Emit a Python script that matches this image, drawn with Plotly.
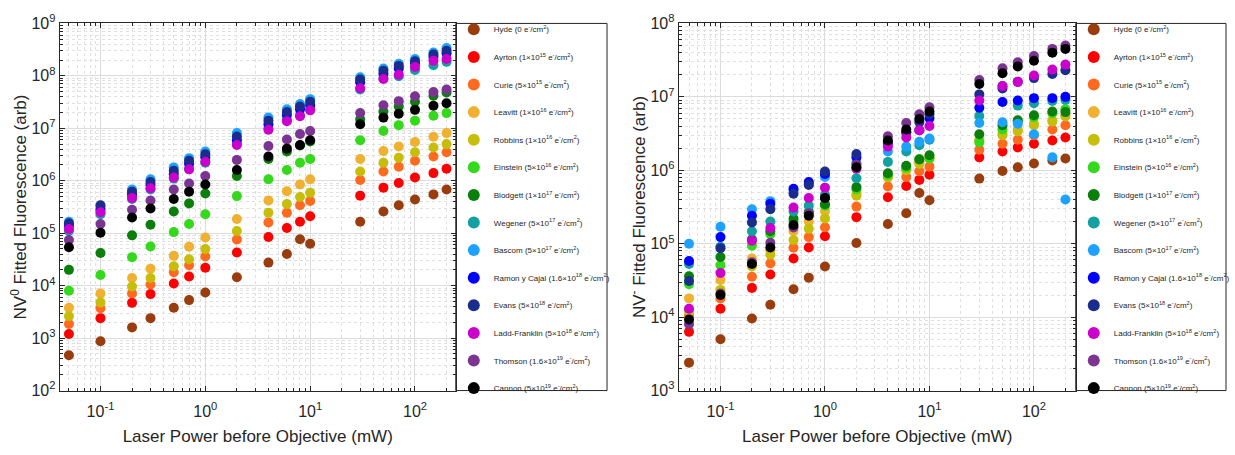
import numpy as np
import plotly.graph_objects as go

# ---------------- data ----------------
power_mw = [0.05, 0.1, 0.2, 0.3, 0.5, 0.7, 1, 2, 4, 6, 8, 10, 30, 50, 70, 100, 150, 200]

sample_names = ["Hyde", "Ayrton", "Curie", "Leavitt", "Robbins", "Einstein", "Blodgett",
                "Wegener", "Bascom", "Ramon y Cajal", "Evans", "Ladd-Franklin", "Thomson", "Cannon"]
sample_doses = ["0", "1\u00d710<sup>15</sup>", "5\u00d710<sup>15</sup>", "1\u00d710<sup>16</sup>",
                "1\u00d710<sup>16</sup>", "5\u00d710<sup>16</sup>", "1\u00d710<sup>17</sup>",
                "5\u00d710<sup>17</sup>", "5\u00d710<sup>17</sup>", "1.6\u00d710<sup>18</sup>",
                "5\u00d710<sup>18</sup>", "5\u00d710<sup>18</sup>", "1.6\u00d710<sup>19</sup>",
                "5\u00d710<sup>19</sup>"]
sample_colors = ["#993D0F", "#FF0000", "#FF6A1F", "#EFB12F", "#C6BE0A", "#33D91A", "#0B7F0B",
                 "#12A0A0", "#1EA2FF", "#0000FF", "#1B2D8C", "#CC00CC", "#7B3492", "#000000"]

# NV0 fitted fluorescence (arb)
nv0_hyde = [470, 870, 1600, 2400, 3800, 5300, 7400, 1.45e4, 2.75e4, 4.0e4, 7.7e4, 6.3e4, 1.66e5, 2.6e5, 3.4e5, 4.4e5, 5.5e5, 6.8e5]
nv0_ayrton = [1.2e3, 2.4e3, 4.7e3, 6.9e3, 1.1e4, 1.5e4, 2.2e4, 4.3e4, 8.5e4, 1.26e5, 1.66e5, 2.1e5, 5.2e5, 7.4e5, 9.1e5, 1.15e6, 1.4e6, 1.7e6]
nv0_curie = [1.86e3, 3.7e3, 7.1e3, 1.05e4, 1.8e4, 2.45e4, 3.6e4, 7.6e4, 1.6e5, 2.45e5, 3.4e5, 4.1e5, 1.03e6, 1.5e6, 1.85e6, 2.4e6, 2.9e6, 3.5e6]
nv0_leavitt = [3.8e3, 7.1e3, 1.4e4, 2.1e4, 3.7e4, 5.5e4, 8.3e4, 1.87e5, 4.2e5, 6.3e5, 8.5e5, 1.07e6, 2.6e6, 3.7e6, 4.5e6, 5.5e6, 6.9e6, 8.1e6]
nv0_robbins = [2.6e3, 4.8e3, 9.6e3, 1.4e4, 2.35e4, 3.2e4, 5.0e4, 1.1e5, 2.45e5, 3.6e5, 4.9e5, 5.9e5, 1.5e6, 2.2e6, 2.75e6, 3.5e6, 4.3e6, 5.0e6]
nv0_einstein = [8.0e3, 1.6e4, 3.5e4, 5.6e4, 1.05e5, 1.5e5, 2.3e5, 5.1e5, 1.07e6, 1.6e6, 2.2e6, 2.6e6, 5.9e6, 8.9e6, 1.15e7, 1.4e7, 1.74e7, 1.95e7]
nv0_blodgett = [2.0e4, 4.2e4, 9.1e4, 1.45e5, 2.6e5, 3.7e5, 5.7e5, 1.23e6, 2.6e6, 3.6e6, 4.7e6, 5.6e6, 1.48e7, 2.1e7, 2.6e7, 3.2e7, 4.2e7, 4.8e7]
nv0_wegener = [1.1e5, 2.3e5, 4.5e5, 6.8e5, 1.1e6, 1.7e6, 2.2e6, 5.0e6, 9.8e6, 1.45e7, 1.8e7, 2.3e7, 5.5e7, 9.0e7, 9.8e7, 1.3e8, 1.6e8, 1.85e8]
nv0_bascom = [1.65e5, 3.1e5, 6.8e5, 1.07e6, 1.8e6, 2.7e6, 3.6e6, 8.1e6, 1.6e7, 2.3e7, 2.9e7, 3.6e7, 9.4e7, 1.38e8, 1.7e8, 2.1e8, 2.8e8, 3.4e8]
nv0_ramon = [1.4e5, 2.8e5, 5.5e5, 8.3e5, 1.35e6, 2.1e6, 2.8e6, 5.9e6, 1.2e7, 1.8e7, 2.3e7, 2.75e7, 7.6e7, 1.1e8, 1.38e8, 1.74e8, 2.3e8, 2.7e8]
nv0_evans = [1.55e5, 3.4e5, 6.2e5, 9.5e5, 1.55e6, 2.4e6, 3.2e6, 7.0e6, 1.4e7, 2.05e7, 2.6e7, 3.2e7, 8.5e7, 1.25e8, 1.55e8, 1.9e8, 2.55e8, 3.0e8]
nv0_ladd = [1.2e5, 2.5e5, 4.7e5, 7.2e5, 1.15e6, 1.65e6, 2.3e6, 4.8e6, 9.4e6, 1.37e7, 1.7e7, 2.2e7, 5.8e7, 8.7e7, 1.05e8, 1.48e8, 1.95e8, 2.1e8]
nv0_thomson = [7.4e4, 1.5e5, 2.8e5, 4.2e5, 6.8e5, 8.9e5, 1.23e6, 2.5e6, 4.6e6, 6.1e6, 7.8e6, 8.9e6, 1.95e7, 2.75e7, 3.3e7, 4.1e7, 4.9e7, 5.5e7]
nv0_cannon = [5.4e4, 1.02e5, 2.0e5, 2.95e5, 4.5e5, 6.2e5, 8.5e5, 1.6e6, 2.9e6, 4.1e6, 4.8e6, 5.9e6, 1.2e7, 1.6e7, 1.9e7, 2.25e7, 2.7e7, 3.0e7]

# NV- fitted fluorescence (arb)
nvm_hyde = [2.4e3, 5.0e3, 9.6e3, 1.47e4, 2.4e4, 3.45e4, 4.9e4, 1.02e5, 1.85e5, 2.6e5, 4.9e5, 3.9e5, 7.7e5, 9.8e5, 1.1e6, 1.24e6, 1.36e6, 1.45e6]
nvm_ayrton = [6.3e3, 1.3e4, 2.5e4, 3.8e4, 6.3e4, 8.9e4, 1.26e5, 2.3e5, 4.3e5, 6.1e5, 7.4e5, 8.7e5, 1.5e6, 1.8e6, 2.05e6, 2.3e6, 2.55e6, 2.8e6]
nvm_curie = [1.05e4, 1.8e4, 3.55e4, 5.4e4, 8.8e4, 1.23e5, 1.67e5, 3.2e5, 6.0e5, 8.1e5, 9.7e5, 1.12e6, 1.9e6, 2.3e6, 2.6e6, 3.0e6, 3.6e6, 4.1e6]
nvm_leavitt = [1.8e4, 3.2e4, 6.3e4, 8.0e4, 1.48e5, 2.0e5, 2.77e5, 4.7e5, 8.3e5, 1.05e6, 1.3e6, 1.5e6, 2.6e6, 3.2e6, 3.6e6, 4.3e6, 4.8e6, 5.6e6]
nvm_robbins = [1.2e4, 2.35e4, 4.9e4, 7.1e4, 1.12e5, 1.6e5, 2.2e5, 4.5e5, 8.0e5, 1.0e6, 1.22e6, 1.45e6, 2.5e6, 3.0e6, 3.4e6, 4.1e6, 4.6e6, 5.4e6]
nvm_einstein = [2.8e4, 5.1e4, 9.4e4, 1.35e5, 2.0e5, 2.6e5, 3.3e5, 5.5e5, 8.6e5, 1.08e6, 1.42e6, 1.45e6, 2.4e6, 3.6e6, 4.6e6, 5.3e6, 6.0e6, 6.8e6]
nvm_blodgett = [3.6e4, 6.6e4, 1.15e5, 1.48e5, 2.2e5, 2.7e5, 3.45e5, 5.9e5, 9.1e5, 1.15e6, 1.4e6, 1.6e6, 3.1e6, 4.1e6, 4.8e6, 5.6e6, 6.3e6, 6.2e6]
nvm_wegener = [5.3e4, 9.1e4, 1.48e5, 2.0e5, 2.75e5, 3.3e5, 4.6e5, 7.8e5, 1.3e6, 1.8e6, 2.2e6, 2.6e6, 5.5e6, 1.4e7, 7.6e6, 8.2e6, 8.8e6, 9.1e6]
nvm_bascom = [1.0e5, 1.7e5, 2.95e5, 3.8e5, 5.3e5, 6.5e5, 8.1e5, 1.25e6, 1.8e6, 2.1e6, 2.45e6, 2.7e6, 4.4e6, 4.5e6, 4.3e6, 3.1e6, 1.5e6, 4.0e5]
nvm_ramon = [5.8e4, 1.23e5, 2.4e5, 3.5e5, 5.6e5, 6.9e5, 8.9e5, 1.5e6, 2.35e6, 3.3e6, 3.5e6, 5.1e6, 7.1e6, 8.5e6, 8.9e6, 9.6e6, 9.6e6, 1.0e7]
nvm_evans = [3.1e4, 8.7e4, 1.95e5, 2.95e5, 4.8e5, 6.3e5, 9.6e5, 1.66e6, 2.35e6, 3.3e6, 4.5e6, 5.8e6, 1.08e7, 1.3e7, 1.6e7, 1.8e7, 2.05e7, 2.3e7]
nvm_ladd = [1.3e4, 4.0e4, 1.1e5, 1.63e5, 3.1e5, 4.2e5, 5.8e5, 1.05e6, 2.1e6, 2.8e6, 3.5e6, 4.0e6, 8.9e6, 1.4e7, 1.6e7, 1.95e7, 2.35e7, 2.75e7]
nvm_thomson = [8.0e3, 2.1e4, 5.6e4, 1.03e5, 1.66e5, 2.6e5, 4.2e5, 1.2e6, 2.9e6, 4.4e6, 5.8e6, 7.2e6, 1.7e7, 2.45e7, 2.95e7, 3.6e7, 4.5e7, 5.0e7]
nvm_cannon = [9.3e3, 2.0e4, 5.3e4, 8.9e4, 1.8e5, 2.4e5, 4.2e5, 1.1e6, 2.55e6, 3.6e6, 5.0e6, 6.3e6, 1.5e7, 2.1e7, 2.6e7, 3.1e7, 4.0e7, 4.5e7]

x_tickvals = [0.1, 1, 10, 100]
x_ticktext = ["10<sup>-1</sup>", "10<sup>0</sup>", "10<sup>1</sup>", "10<sup>2</sup>"]
y0_tickvals = [1e2, 1e3, 1e4, 1e5, 1e6, 1e7, 1e8, 1e9]
y0_ticktext = ["10<sup>2</sup>", "10<sup>3</sup>", "10<sup>4</sup>", "10<sup>5</sup>",
               "10<sup>6</sup>", "10<sup>7</sup>", "10<sup>8</sup>", "10<sup>9</sup>"]
ym_tickvals = [1e3, 1e4, 1e5, 1e6, 1e7, 1e8]
ym_ticktext = ["10<sup>3</sup>", "10<sup>4</sup>", "10<sup>5</sup>", "10<sup>6</sup>",
               "10<sup>7</sup>", "10<sup>8</sup>"]

nv0_series = [nv0_hyde, nv0_ayrton, nv0_curie, nv0_leavitt, nv0_robbins, nv0_einstein, nv0_blodgett,
              nv0_wegener, nv0_bascom, nv0_ramon, nv0_evans, nv0_ladd, nv0_thomson, nv0_cannon]
nvm_series = [nvm_hyde, nvm_ayrton, nvm_curie, nvm_leavitt, nvm_robbins, nvm_einstein, nvm_blodgett,
              nvm_wegener, nvm_bascom, nvm_ramon, nvm_evans, nvm_ladd, nvm_thomson, nvm_cannon]

# ---------------- figure ----------------
W, H = 1235, 455
FONT = "Liberation Sans, Arial, Helvetica, sans-serif"
TXT = "#262626"

def px_x(p):
    return p / W

def px_y(p):
    return 1 - p / H

fig = go.Figure()

for i, name in enumerate(sample_names):
    label = f"{name} ({sample_doses[i]} e<sup>-</sup>/cm<sup>2</sup>)"
    fig.add_trace(go.Scatter(
        x=power_mw, y=nv0_series[i], mode="markers", name=label,
        marker=dict(size=10, color=sample_colors[i], line=dict(width=0)),
        xaxis="x", yaxis="y", legend="legend", legendgroup=f"a{i}",
    ))
for i, name in enumerate(sample_names):
    label = f"{name} ({sample_doses[i]} e<sup>-</sup>/cm<sup>2</sup>)"
    fig.add_trace(go.Scatter(
        x=power_mw, y=nvm_series[i], mode="markers", name=label,
        marker=dict(size=10, color=sample_colors[i], line=dict(width=0)),
        xaxis="x2", yaxis="y2", legend="legend2", legendgroup=f"b{i}",
    ))

def minor_vals(lo, hi):
    return [d * 10.0 ** k for k in range(lo, hi) for d in range(2, 10)]

MINOR_GRID = "#E0E0E0"
axis_common = dict(
    type="log", showline=True, linecolor=TXT, linewidth=1, mirror="ticks",
    ticks="inside", ticklen=5, tickcolor=TXT, tickwidth=1,
    showgrid=True, gridcolor="#DCDCDC", gridwidth=1, zeroline=False,
    tickfont=dict(family=FONT, size=16, color=TXT),
    title_font=dict(family=FONT, size=17, color=TXT),
)

xmin_l, xmax_l = -1.389, 2.389
xmin_r, xmax_r = -1.40, 2.40

fig.update_layout(
    width=W, height=H, margin=dict(l=0, r=0, t=0, b=0),
    paper_bgcolor="white", plot_bgcolor="white",
    font=dict(family=FONT, color=TXT),
    xaxis=dict(axis_common, domain=[px_x(60), px_x(458)], range=[xmin_l, xmax_l],
               tickvals=x_tickvals, ticktext=x_ticktext, anchor="y",
               minor=dict(tickvals=minor_vals(-2, 3), ticks="inside", ticklen=3, tickcolor=TXT,
                          showgrid=True, gridcolor=MINOR_GRID, griddash="dot"),
               ticklabelstandoff=6,
               title=dict(text="Laser Power before Objective (mW)", standoff=11)),
    yaxis=dict(axis_common, domain=[px_y(397), px_y(13)], range=[2, 9],
               tickvals=y0_tickvals, ticktext=y0_ticktext, anchor="x",
               minor=dict(tickvals=minor_vals(2, 9), ticks="inside", ticklen=3, tickcolor=TXT,
                          showgrid=True, gridcolor=MINOR_GRID, griddash="dot"),
               title=dict(text="NV<sup>0</sup> Fitted Fluorescence (arb)", standoff=0)),
    xaxis2=dict(axis_common, domain=[px_x(682), px_x(1081)], range=[xmin_r, xmax_r],
                tickvals=x_tickvals, ticktext=x_ticktext, anchor="y2",
                minor=dict(tickvals=minor_vals(-2, 3), ticks="inside", ticklen=3, tickcolor=TXT,
                           showgrid=True, gridcolor=MINOR_GRID, griddash="dot"),
                ticklabelstandoff=6,
                title=dict(text="Laser Power before Objective (mW)", standoff=11)),
    yaxis2=dict(axis_common, domain=[px_y(397), px_y(13)], range=[3, 8],
                tickvals=ym_tickvals, ticktext=ym_ticktext, anchor="x2",
                minor=dict(tickvals=minor_vals(3, 8), ticks="inside", ticklen=3, tickcolor=TXT,
                           showgrid=True, gridcolor=MINOR_GRID, griddash="dot"),
                title=dict(text="NV<sup>-</sup> Fitted Fluorescence (arb)", standoff=0)),
    legend=dict(x=px_x(456), y=px_y(4), xanchor="left", yanchor="top",
                bgcolor="rgba(0,0,0,0)", borderwidth=0,
                font=dict(family=FONT, size=8, color=TXT),
                traceorder="grouped", tracegroupgap=8.6, itemsizing="constant"),
    legend2=dict(x=px_x(1079), y=px_y(4), xanchor="left", yanchor="top",
                 bgcolor="rgba(0,0,0,0)", borderwidth=0,
                 font=dict(family=FONT, size=8, color=TXT),
                 traceorder="grouped", tracegroupgap=8.6, itemsizing="constant"),
    shapes=[
        dict(type="rect", xref="paper", yref="paper", x0=px_x(458), x1=px_x(610),
             y0=px_y(397), y1=px_y(13), line=dict(color=TXT, width=1), fillcolor="white", layer="below"),
        dict(type="rect", xref="paper", yref="paper", x0=px_x(1081), x1=px_x(1232),
             y0=px_y(397), y1=px_y(13), line=dict(color=TXT, width=1), fillcolor="white", layer="below"),
    ],
)

fig.write_html("out.html")
